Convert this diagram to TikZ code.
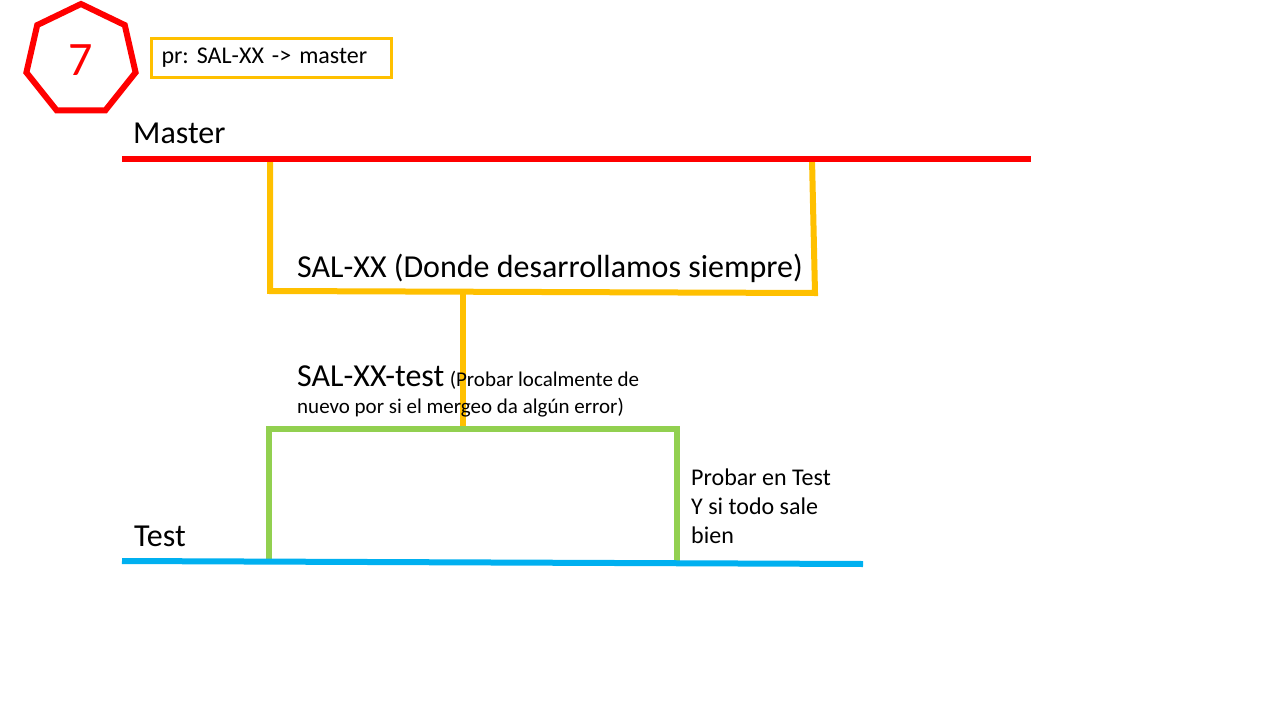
\documentclass[tikz,border=0pt]{standalone}
\usepackage{fontspec}
\setmainfont{Carlito}
\usetikzlibrary{positioning, shapes.geometric}
\definecolor{rojo}{HTML}{FF0000}
\definecolor{amarillo}{HTML}{FFC000}
\definecolor{verde}{HTML}{92D050}
\definecolor{azul}{HTML}{00B0F0}
\frenchspacing

\begin{document}
\begin{tikzpicture}[x=1pt, y=-1pt, inner sep=0pt,
        big/.style={font=\fontsize{32}{38}\selectfont},
        mid/.style={font=\fontsize{24}{29}\selectfont},
        small/.style={font=\fontsize{21}{26}\selectfont},
        rama/.style={line width=6pt}]
            \fill[white] (0,0) rectangle (1280,720);
            \useasboundingbox (0,0) rectangle (1280,720);

            % ramas
            \coordinate (s0) at (270,159);  \coordinate (s1) at (270,291);
            \coordinate (s2) at (815,293);  \coordinate (s3) at (812,159);
            \coordinate (v0) at (463,292);  \coordinate (v1) at (463,429);
            \coordinate (g0) at (269,561);  \coordinate (g1) at (269,429);
            \coordinate (g2) at (677,429);  \coordinate (g3) at (677,562);
            \coordinate (m0) at (122,159);  \coordinate (m1) at (1031,159);
            \coordinate (t0) at (122,561);  \coordinate (t1) at (863,564);

            \draw[rama, amarillo] (s0) -- (s1) -- (s2) -- (s3);
            \draw[rama, amarillo] (v0) -- (v1);
            \draw[rama, verde] (g0) -- (g1) -- (g2) -- (g3);
            \draw[rama, rojo] (m0) -- (m1);
            \draw[rama, azul] (t0) -- (t1);

            \node[draw=rojo, line width=6pt, regular polygon, regular polygon sides=7,
                  minimum size=112pt, text=rojo, font=\fontsize{48}{58}\selectfont] (paso) at (81,60) {7};
            \node[draw=amarillo, line width=3pt, minimum width=240pt, minimum height=39pt,
                  inner xsep=10pt, text width=220pt, align=left, anchor=west, mid] (pr) at (150,57.5) {pr: SAL-XX -> master};

            \node[big, anchor=base west]                        (master)  at (133,143) {Master};
            \node[big, anchor=base west]                        (salxx)   at (297,277) {SAL-XX (Donde desarrollamos siempre)};
            \node[big, anchor=base west]                        (saltest) at (297,386) {SAL-XX-test};
            \node[small, right=5pt of saltest.base east, anchor=base west] (probar) {(Probar localmente de};
            \node[small, anchor=base west]                      (nuevo)   at (297,413) {nuevo por si el mergeo da algún error)};
            \node[big, anchor=base west]                        (test)    at (134,546) {Test};
            \node[mid, anchor=base west]                        (nota 1)  at (691,485) {Probar en Test};
            \node[mid, below=29pt of nota 1.base west, anchor=base west] (nota 2) {Y si todo sale};
            \node[mid, below=29pt of nota 2.base west, anchor=base west] (nota 3) {bien};
        \end{tikzpicture}
\end{document}
